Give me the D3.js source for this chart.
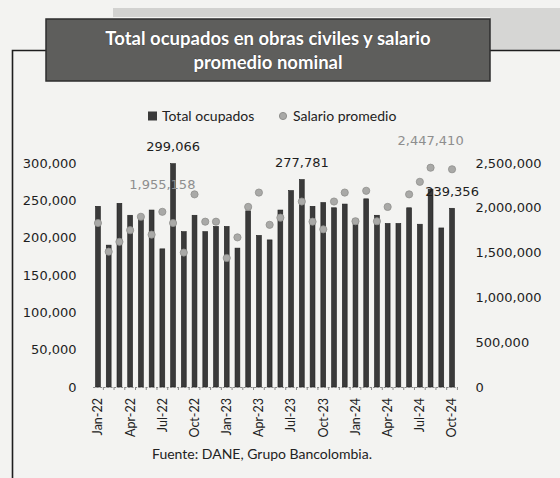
<!DOCTYPE html>
<html>
<head>
<meta charset="utf-8">
<script src="https://cdn.jsdelivr.net/npm/d3@7"></script>
<style>
  body { margin: 0; background: #f3f3f1; }
  svg { display: block; }
</style>
</head>
<body>
<script>
// chart data
const months = ['Jan-22', 'Feb-22', 'Mar-22', 'Apr-22', 'May-22', 'Jun-22', 'Jul-22', 'Aug-22', 'Sep-22', 'Oct-22', 'Nov-22', 'Dec-22',
    'Jan-23', 'Feb-23', 'Mar-23', 'Apr-23', 'May-23', 'Jun-23', 'Jul-23', 'Aug-23', 'Sep-23', 'Oct-23', 'Nov-23', 'Dec-23',
    'Jan-24', 'Feb-24', 'Mar-24', 'Apr-24', 'May-24', 'Jun-24', 'Jul-24', 'Aug-24', 'Sep-24', 'Oct-24']

const ocupados = [242000, 190000, 246000, 230000, 229000, 237000, 185000, 299066, 208000, 230000, 208000, 215000,
    215000, 186000, 236000, 203000, 197000, 237000, 263000, 277781, 242000, 247000, 240000, 245000,
    225000, 252000, 230000, 219000, 219000, 240000, 218000, 265000, 213000, 239356]

// some markers are not visible in the source, kept as null
const salario = [1830000, 1510000, 1620000, 1750000, 1900000, 1700000, 1955158, 1830000, 1500000, 2150000, 1845000, 1845000,
    1440000, 1670000, 2010000, 2170000, 1810000, 1890000, null, 2070000, 1845000, 1760000, 2070000, 2170000,
    1850000, 2190000, 1850000, 2010000, null, 2150000, 2290000, 2447410, null, 2430000]

const leftTicks = [0, 50000, 100000, 150000, 200000, 250000, 300000]
const rightTicks = [0, 500000, 1000000, 1500000, 2000000, 2500000]
const xTickLabels = ['Jan-22', 'Apr-22', 'Jul-22', 'Oct-22', 'Jan-23', 'Apr-23', 'Jul-23', 'Oct-23', 'Jan-24', 'Apr-24', 'Jul-24', 'Oct-24']
const ocupadosLabelled = ['Aug-22', 'Aug-23', 'Oct-24']
const salarioLabelled = ['Jul-22', 'Aug-24']

const title = ['Total ocupados en obras civiles y salario', 'promedio nominal']
const legendNames = ['Total ocupados', 'Salario promedio']
const source = 'Fuente: DANE, Grupo Bancolombia.'

// measurements
const m = { width: 560, height: 478, left: 92.6, right: 457.4, top: 163, bottom: 387 }
const numFont = '"DejaVu Sans", Verdana, sans-serif'
const txtFont = 'Lato, "Open Sans", sans-serif'

const data = months.map((d, i) => ({ month: d, ocup: ocupados[i], sal: salario[i] }))

const svg = d3.select('body').append('svg')
    .attr('width', m.width)
    .attr('height', m.height)

// scanned page background bits
svg.append('rect').attr('x', 113).attr('y', 8).attr('width', 447).attr('height', 9).attr('fill', '#d2d2d0')
svg.append('rect').attr('x', 490).attr('y', 8).attr('width', 70).attr('height', 42).attr('fill', '#d6d6d4')

// frame
svg.append('path')
    .attr('d', 'M12.5,478 V50.5 H560')
    .attr('fill', 'none')
    .attr('stroke', '#1e1e1e')
    .attr('stroke-width', 1.6)

// title box
svg.append('rect')
    .attr('x', 46).attr('y', 19).attr('width', 444).attr('height', 62)
    .attr('fill', '#5e5e5c')
    .attr('stroke', '#2e2e2e')
    .attr('stroke-width', 1.5)

svg.append('g').selectAll('text')
    .data(title)
    .join('text')
    .attr('x', 268)
    .attr('y', (d, i) => 45 + i * 24)
    .attr('text-anchor', 'middle')
    .attr('font-family', txtFont)
    .attr('font-weight', 'bold')
    .attr('font-size', 18.5)
    .attr('fill', '#ffffff')
    .attr('stroke', '#333')
    .attr('stroke-width', 0.6)
    .attr('paint-order', 'stroke')
    .text(d => d)

// scales
const xScale = d3.scaleBand()
    .domain(months)
    .range([m.left, m.right])
    .paddingInner(0.55)
    .paddingOuter(0.275)

const yLeft = d3.scaleLinear().domain([0, 300000]).range([m.bottom, m.top])
const yRight = d3.scaleLinear().domain([0, 2500000]).range([m.bottom, m.top])

// axes
const leftAxis = svg.append('g')
    .attr('transform', `translate(${m.left},0)`)
    .call(d3.axisLeft(yLeft).tickValues(leftTicks).tickFormat(d3.format(',')).tickSize(0).tickPadding(16))
leftAxis.select('.domain').remove()

const rightAxis = svg.append('g')
    .attr('transform', `translate(${m.right},0)`)
    .call(d3.axisRight(yRight).tickValues(rightTicks).tickFormat(d3.format(',')).tickSize(0).tickPadding(18))
rightAxis.select('.domain').remove()

svg.selectAll('.tick text')
    .attr('font-family', numFont)
    .attr('font-size', 13)
    .attr('fill', '#1e1e1e')

// bars
svg.append('g').selectAll('rect')
    .data(data)
    .join('rect')
    .attr('x', d => xScale(d.month))
    .attr('y', d => yLeft(d.ocup))
    .attr('width', xScale.bandwidth())
    .attr('height', d => m.bottom - yLeft(d.ocup))
    .attr('fill', '#3a3a3a')
    .attr('stroke', '#1f1f1f')
    .attr('stroke-width', 0.6)

// category axis
const step = xScale.step()
const xAxis = svg.append('g')
    .attr('transform', `translate(0,${m.bottom})`)
    .call(d3.axisBottom(xScale).tickSize(3).tickSizeOuter(0).tickFormat(''))
xAxis.select('.domain').attr('stroke', '#8a8a8a').attr('stroke-dasharray', '2,1.5')
xAxis.selectAll('.tick line')
    .attr('stroke', '#8a8a8a')
    .attr('x1', step / 2).attr('x2', step / 2)

svg.append('g').selectAll('text')
    .data(xTickLabels)
    .join('text')
    .attr('transform', d => `translate(${xScale(d) + xScale.bandwidth() / 2},398) rotate(-90)`)
    .attr('text-anchor', 'end')
    .attr('dy', '0.35em')
    .attr('font-family', txtFont)
    .attr('font-size', 12.5)
    .attr('fill', '#222')
    .text(d => d)

// salary markers
svg.append('g').selectAll('circle')
    .data(data.filter(d => d.sal !== null))
    .join('circle')
    .attr('cx', d => xScale(d.month) + xScale.bandwidth() / 2)
    .attr('cy', d => yRight(d.sal))
    .attr('r', 3.6)
    .attr('fill', '#a9a9a7')
    .attr('stroke', '#8f8f8d')
    .attr('stroke-width', 0.8)

// data labels
svg.append('g').selectAll('text')
    .data(data.filter(d => ocupadosLabelled.includes(d.month)))
    .join('text')
    .attr('x', d => xScale(d.month) + xScale.bandwidth() / 2)
    .attr('y', d => yLeft(d.ocup) - 17)
    .attr('dy', '0.35em')
    .attr('text-anchor', 'middle')
    .attr('font-family', numFont)
    .attr('font-size', 13)
    .attr('fill', '#1e1e1e')
    .text(d => d3.format(',')(d.ocup))

svg.append('g').selectAll('text')
    .data(data.filter(d => salarioLabelled.includes(d.month)))
    .join('text')
    .attr('x', d => xScale(d.month) + xScale.bandwidth() / 2)
    .attr('y', d => yRight(d.sal) - 27)
    .attr('dy', '0.35em')
    .attr('text-anchor', 'middle')
    .attr('font-family', numFont)
    .attr('font-size', 13)
    .attr('fill', '#8e8e8e')
    .text(d => d3.format(',')(d.sal))

// legend
const legend = svg.append('g').attr('font-family', txtFont).attr('font-size', 14).attr('fill', '#222')
legend.append('rect').attr('x', 148).attr('y', 111.5).attr('width', 9).attr('height', 9).attr('fill', '#3a3a3a')
legend.append('text').attr('x', 162).attr('y', 116).attr('dy', '0.35em').text(legendNames[0])
legend.append('circle').attr('cx', 283).attr('cy', 116).attr('r', 3.6).attr('fill', '#a9a9a7').attr('stroke', '#8f8f8d')
legend.append('text').attr('x', 293).attr('y', 116).attr('dy', '0.35em').text(legendNames[1])

// source note
svg.append('text')
    .attr('x', 262)
    .attr('y', 459)
    .attr('text-anchor', 'middle')
    .attr('font-family', txtFont)
    .attr('font-size', 14)
    .attr('fill', '#222')
    .text(source)
</script>
</body>
</html>
